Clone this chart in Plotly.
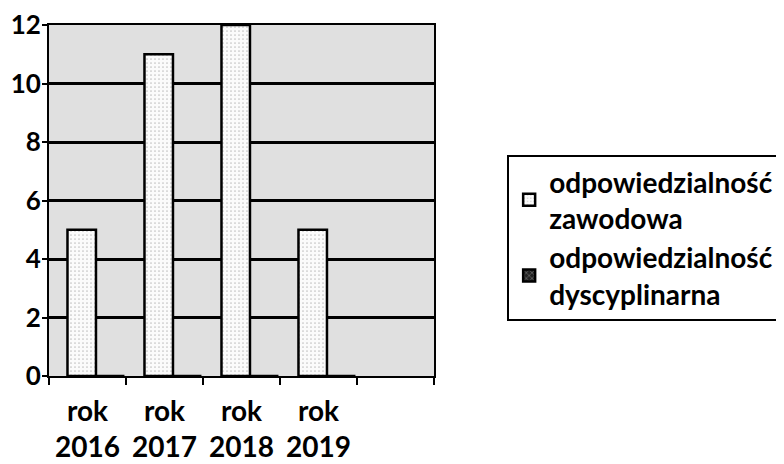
import plotly.graph_objects as go

categories = ["rok<br>2016", "rok<br>2017", "rok<br>2018", "rok<br>2019", " "]
zawodowa = [5, 11, 12, 5, None]
dyscyplinarna = [0, 0, 0, 0, None]
series_names = ["odpowiedzialność<br>zawodowa", "odpowiedzialność<br>dyscyplinarna"]
y_ticks = [0, 2, 4, 6, 8, 10, 12]

FONT = "Lato"

fig = go.Figure()
fig.add_trace(go.Bar(
    x=categories, y=zawodowa, name=series_names[0],
    width=0.37, offset=-0.26,
    marker=dict(color="#fbfbfb",
                line=dict(color="black", width=2.5),
                pattern=dict(shape=".", fgcolor="#8a8a8a", bgcolor="#fbfbfb",
                             size=4, solidity=0.15)),
))
fig.add_trace(go.Bar(
    x=categories, y=dyscyplinarna, name=series_names[1],
    width=0.37, offset=0.11,
    marker=dict(color="#3a3a3a",
                line=dict(color="black", width=2.5),
                pattern=dict(shape="x", fgcolor="#bbbbbb", bgcolor="#222222",
                             size=5, solidity=0.3)),
))

fig.update_layout(
    width=784, height=464,
    margin=dict(l=41, r=351, t=17, b=96),
    paper_bgcolor="white",
    plot_bgcolor="#e0e0e0",
    barmode="group",
    font=dict(family=FONT, size=28, color="black", weight="bold"),
    showlegend=True,
    legend=dict(
        x=1.19, xanchor="left", y=0.63, yanchor="top",
        bordercolor="black", borderwidth=2, bgcolor="white",
        font=dict(family=FONT, size=28, color="black", weight="bold"),
        tracegroupgap=8, itemwidth=30,
    ),
    xaxis=dict(
        type="category", categoryorder="array", categoryarray=categories,
        tickson="boundaries", ticks="outside", ticklen=7, tickwidth=2, tickcolor="black",
        showline=True, linecolor="black", linewidth=2, mirror=True,
        showgrid=False, zeroline=False, automargin=False,
        ticklabelstandoff=9, ticklabeloverflow="allow",
        tickfont=dict(family=FONT, size=28, color="black", weight="bold"),
    ),
    yaxis=dict(
        range=[0, 12], tickvals=y_ticks,
        ticks="outside", ticklen=5, tickwidth=2, tickcolor="black",
        showline=True, linecolor="black", linewidth=2, mirror=True,
        showgrid=True, gridcolor="black", gridwidth=2.5,
        zeroline=False, automargin=False, ticklabeloverflow="allow",
        ticklabelstandoff=-4,
        tickfont=dict(family=FONT, size=26, color="black", weight="bold"),
    ),
)

fig.write_html("out.html")
